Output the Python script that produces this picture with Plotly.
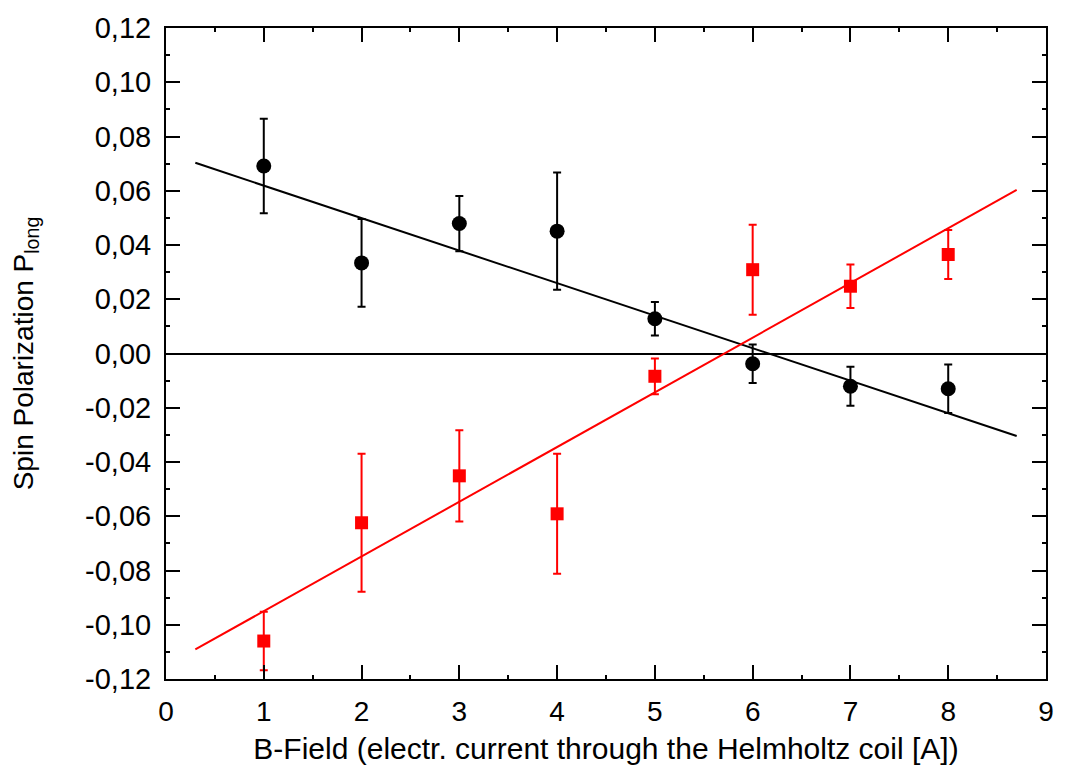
import plotly.graph_objects as go

# Measured spin polarization vs. coil current
current = [1, 2, 3, 4, 5, 6, 7, 8]

pol_black = [0.0691, 0.0334, 0.0479, 0.0451, 0.0128, -0.0038, -0.0121, -0.0130]
err_black = [0.0174, 0.0162, 0.0102, 0.0216, 0.0062, 0.0071, 0.0072, 0.0089]

pol_red = [-0.1060, -0.0624, -0.0451, -0.0591, -0.0084, 0.0309, 0.0248, 0.0365]
err_red = [0.0108, 0.0254, 0.0168, 0.0221, 0.0066, 0.0166, 0.0080, 0.0090]

# Linear fit lines (end points)
fit_x = [0.3, 8.7]
fit_black = [0.0703, -0.0304]
fit_red = [-0.1091, 0.0603]

# Axis ticks
x_ticks = [0, 1, 2, 3, 4, 5, 6, 7, 8, 9]
y_ticks = [-0.12, -0.10, -0.08, -0.06, -0.04, -0.02, 0.0, 0.02, 0.04, 0.06, 0.08, 0.10, 0.12]
y_ticktext = ["-0,12", "-0,10", "-0,08", "-0,06", "-0,04", "-0,02", "0,00",
              "0,02", "0,04", "0,06", "0,08", "0,10", "0,12"]

FONT = "Liberation Sans, Arial, sans-serif"

fig = go.Figure()

fig.add_trace(go.Scatter(
    x=fit_x, y=fit_black, mode="lines",
    line=dict(color="black", width=2), showlegend=False, hoverinfo="skip"))
fig.add_trace(go.Scatter(
    x=fit_x, y=fit_red, mode="lines",
    line=dict(color="#ff0000", width=2), showlegend=False, hoverinfo="skip"))

fig.add_trace(go.Scatter(
    x=current, y=pol_black, mode="markers",
    marker=dict(symbol="circle", size=15, color="black"),
    error_y=dict(type="data", array=err_black, visible=True,
                 color="black", thickness=2, width=4),
    showlegend=False))
fig.add_trace(go.Scatter(
    x=current, y=pol_red, mode="markers",
    marker=dict(symbol="square", size=13, color="#ff0000"),
    error_y=dict(type="data", array=err_red, visible=True,
                 color="#ff0000", thickness=2, width=4),
    showlegend=False))

fig.update_layout(
    width=1066, height=776,
    margin=dict(l=166, r=14, t=24, b=97),
    paper_bgcolor="white", plot_bgcolor="white",
    font=dict(family=FONT, color="black"),
    showlegend=False,
)

fig.update_xaxes(
    range=[0, 9], tickvals=x_ticks,
    ticks="inside", ticklen=14, tickwidth=2, tickcolor="black",
    minor=dict(dtick=0.5, tick0=0, ticks="inside", ticklen=4, tickwidth=2, tickcolor="black"),
    showline=True, linecolor="black", linewidth=2, mirror="ticks",
    showgrid=False, zeroline=False,
    ticklabelstandoff=6,
    tickfont=dict(family=FONT, size=28, color="black"),
    title=dict(text="B-Field (electr. current through the Helmholtz coil [A])",
               font=dict(family=FONT, size=30, color="black"), standoff=12),
)

fig.update_yaxes(
    range=[-0.12, 0.12], tickvals=y_ticks, ticktext=y_ticktext,
    ticks="inside", ticklen=14, tickwidth=2, tickcolor="black",
    minor=dict(dtick=0.01, tick0=0, ticks="inside", ticklen=4, tickwidth=2, tickcolor="black"),
    showline=True, linecolor="black", linewidth=2, mirror="ticks",
    showgrid=False,
    zeroline=True, zerolinecolor="black", zerolinewidth=2,
    ticklabelstandoff=7,
    tickfont=dict(family=FONT, size=29, color="black"),
    title=dict(text="Spin Polarization P<sub>long</sub>",
               font=dict(family=FONT, size=28, color="black"), standoff=43),
)

fig.write_html("out.html")
